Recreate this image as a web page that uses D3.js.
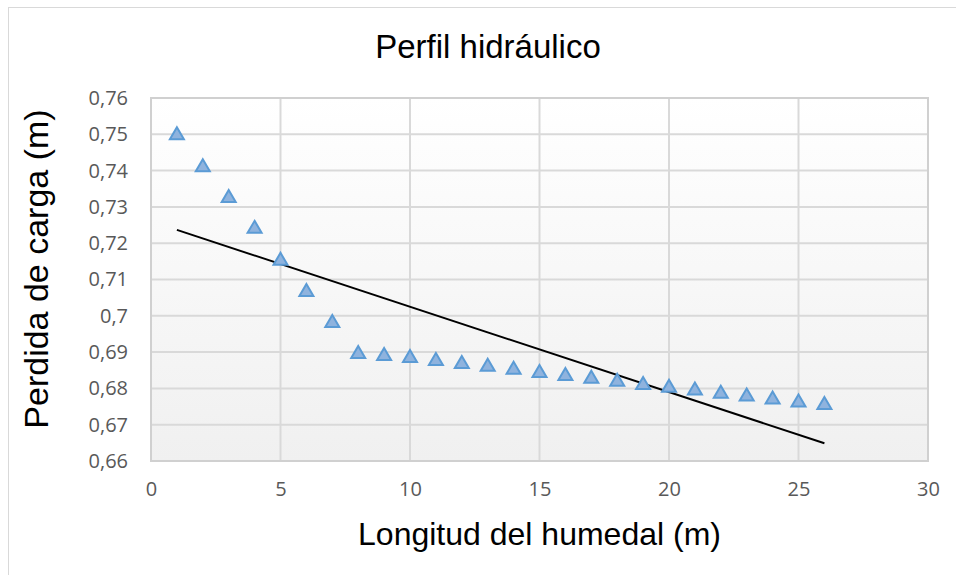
<!DOCTYPE html>
<html><head><meta charset="utf-8">
<script src="https://cdn.jsdelivr.net/npm/d3@7"></script>
<style>body{margin:0;background:#fff}svg{display:block}</style>
</head><body>
<script>
const xValues = [1,2,3,4,5,6,7,8,9,10,11,12,13,14,15,16,17,18,19,20,21,22,23,24,25,26];
const yValues = [0.7503,0.7415,0.7330,0.7245,0.7157,0.7071,0.6986,0.6900,0.6895,0.6889,0.6881,0.6873,0.6865,0.6857,0.6848,0.6840,0.6832,0.6824,0.6815,0.6807,0.6800,0.6791,0.6783,0.6775,0.6767,0.6760];
const xTicks = [0,5,10,15,20,25,30];
const yTicks = [0.66,0.67,0.68,0.69,0.70,0.71,0.72,0.73,0.74,0.75,0.76];
const title = "Perfil hidráulico";
const xTitle = "Longitud del humedal (m)";
const yTitle = "Perdida de carga (m)";

const W=956,H=575;
const svg=d3.select("body").append("svg").attr("width",W).attr("height",H);
const L=151,R=928,T=98,B=461;
const x=d3.scaleLinear().domain([0,30]).range([L,R]);
const y=d3.scaleLinear().domain([0.66,0.76]).range([B,T]);

// outer border
svg.append("rect").attr("x",8.5).attr("y",7.5).attr("width",W+10).attr("height",H+10)
  .attr("fill","#fff").attr("stroke","#d9d9d9");

const defs=svg.append("defs");
const g=defs.append("linearGradient").attr("id","bg").attr("x1",0).attr("y1",0).attr("x2",0).attr("y2",1);
g.append("stop").attr("offset","0%").attr("stop-color","#ffffff");
g.append("stop").attr("offset","100%").attr("stop-color","#f0f0f0");
svg.append("rect").attr("x",L).attr("y",T).attr("width",R-L).attr("height",B-T).attr("fill","url(#bg)");

// gridlines
svg.append("g").selectAll("line").data(yTicks).join("line")
  .attr("x1",L).attr("x2",R).attr("y1",d=>y(d)).attr("y2",d=>y(d))
  .attr("stroke","#d9d9d9").attr("stroke-width",2);
svg.append("g").selectAll("line").data(xTicks).join("line")
  .attr("y1",T).attr("y2",B).attr("x1",d=>x(d)).attr("x2",d=>x(d))
  .attr("stroke","#d9d9d9").attr("stroke-width",2);
svg.append("rect").attr("x",L).attr("y",T).attr("width",R-L).attr("height",B-T)
  .attr("fill","none").attr("stroke","#d0d0d0").attr("stroke-width",2);

// axes labels via d3 axes
const fmt=d=>{let s=d3.format(".2f")(d); if(s.endsWith("0")) s=s.slice(0,-1); return s.replace(".",",");};
const ya=svg.append("g").attr("transform",`translate(${L},0)`)
  .call(d3.axisLeft(y).tickValues(yTicks).tickFormat(fmt).tickSize(0).tickPadding(23));
const xa=svg.append("g").attr("transform",`translate(0,${B})`)
  .call(d3.axisBottom(x).tickValues(xTicks).tickSize(0).tickPadding(21));
[ya,xa].forEach(a=>{a.select(".domain").remove();
  a.selectAll("text").attr("fill","#595959").style("font-family","'Open Sans','Noto Sans',sans-serif").style("font-size","20px");});

// trendline (linear least squares)
const mx=d3.mean(xValues), my=d3.mean(yValues);
let sxy=0,sxx=0; xValues.forEach((v,i)=>{sxy+=(v-mx)*(yValues[i]-my);sxx+=(v-mx)*(v-mx);});
const slope=sxy/sxx, icpt=my-slope*mx;
const x0=d3.min(xValues), x1=d3.max(xValues);
svg.append("line").attr("x1",x(x0)).attr("y1",y(icpt+slope*x0)).attr("x2",x(x1)).attr("y2",y(icpt+slope*x1))
  .attr("stroke","#000").attr("stroke-width",2);

// markers (triangle centred on its bounding box)
const tw=14, th=12;
const triPath=`M0,${-th/2}L${tw/2},${th/2}L${-tw/2},${th/2}Z`;
svg.append("g").selectAll("path").data(xValues).join("path")
  .attr("d",triPath).attr("transform",(d,i)=>`translate(${x(d)},${y(yValues[i])})`)
  .attr("fill","#8fb3de").attr("stroke","#5b9bd5").attr("stroke-width",2).attr("stroke-linejoin","miter");

svg.append("text").attr("x",488).attr("y",58).attr("text-anchor","middle")
  .style("font-family","'Liberation Sans',Arial,sans-serif").style("font-size","33px").attr("fill","#000").text(title);
svg.append("text").attr("x",(L+R)/2).attr("y",545).attr("text-anchor","middle")
  .style("font-family","'Liberation Sans',Arial,sans-serif").style("font-size","32px").attr("fill","#000").text(xTitle);
svg.append("text").attr("transform",`translate(48,269) rotate(-90)`).attr("text-anchor","middle")
  .style("font-family","'Liberation Sans',Arial,sans-serif").style("font-size","34px").attr("fill","#000").text(yTitle);
</script>
</body></html>
